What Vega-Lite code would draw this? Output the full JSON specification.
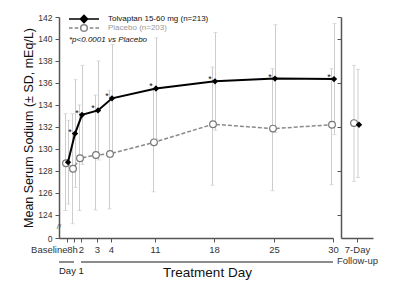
{
  "$schema": "https://vega.github.io/schema/vega-lite/v6.json",
  "background": "white",
  "padding": {"left": 22, "top": 13, "right": 5, "bottom": 2},
  "config": {
    "view": {"stroke": null},
    "font": "Liberation Sans",
    "axis": {"grid": false, "labelOverlap": false, "tickCount": 40, "domainColor": "#555", "domainWidth": 1.5, "tickColor": "#555", "tickWidth": 1, "tickSize": 4, "labelColor": "#333", "titleFontWeight": "normal", "titleColor": "#111"}
  },
  "datasets": {
    "main": [
      {"series": "Placebo (n=203)", "day": 0, "mean": 128.7, "lo": 124.4, "hi": 133.2, "sig": false},
      {"series": "Placebo (n=203)", "day": 0.33, "mean": 128.2, "lo": 123.2, "hi": 133.2, "sig": false},
      {"series": "Placebo (n=203)", "day": 2, "mean": 129.15, "lo": 124.4, "hi": 134.0, "sig": false},
      {"series": "Placebo (n=203)", "day": 3, "mean": 129.45, "lo": 124.45, "hi": 134.9, "sig": false},
      {"series": "Placebo (n=203)", "day": 4, "mean": 129.55, "lo": 124.55, "hi": 135.3, "sig": false},
      {"series": "Placebo (n=203)", "day": 11, "mean": 130.6, "lo": 126.1, "hi": 135.4, "sig": false},
      {"series": "Placebo (n=203)", "day": 18, "mean": 132.25, "lo": 126.7, "hi": 137.45, "sig": false},
      {"series": "Placebo (n=203)", "day": 25, "mean": 131.85, "lo": 126.2, "hi": 137.3, "sig": false},
      {"series": "Placebo (n=203)", "day": 30, "mean": 132.2, "lo": 126.75, "hi": 137.3, "sig": false},
      {"series": "Tolvaptan 15-60 mg (n=213)", "day": 0, "mean": 128.8, "lo": 125.0, "hi": 132.6, "sig": false},
      {"series": "Tolvaptan 15-60 mg (n=213)", "day": 0.33, "mean": 131.4, "lo": 126.5, "hi": 136.3, "sig": true},
      {"series": "Tolvaptan 15-60 mg (n=213)", "day": 2, "mean": 133.1, "lo": 128.6, "hi": 137.6, "sig": true},
      {"series": "Tolvaptan 15-60 mg (n=213)", "day": 3, "mean": 133.5, "lo": 129.0, "hi": 138.0, "sig": true},
      {"series": "Tolvaptan 15-60 mg (n=213)", "day": 4, "mean": 134.6, "lo": 129.7, "hi": 139.5, "sig": true},
      {"series": "Tolvaptan 15-60 mg (n=213)", "day": 11, "mean": 135.5, "lo": 130.9, "hi": 140.1, "sig": true},
      {"series": "Tolvaptan 15-60 mg (n=213)", "day": 18, "mean": 136.15, "lo": 131.7, "hi": 140.6, "sig": true},
      {"series": "Tolvaptan 15-60 mg (n=213)", "day": 25, "mean": 136.4, "lo": 131.5, "hi": 141.3, "sig": true},
      {"series": "Tolvaptan 15-60 mg (n=213)", "day": 30, "mean": 136.35, "lo": 131.3, "hi": 141.4, "sig": true}
    ],
    "fu": [
      {"series": "Placebo (n=203)", "tp": "7-Day Follow-up", "mean": 132.35, "lo": 127.05, "hi": 137.6},
      {"series": "Tolvaptan 15-60 mg (n=213)", "tp": "7-Day Follow-up", "mean": 132.2, "lo": 127.4, "hi": 137.25}
    ],
    "brackets": [
      {"label": "Day 1", "start": -0.38, "end": 0.33},
      {"label": "Treatment Day", "start": 2, "end": 30}
    ]
  },
  "spacing": 7,
  "bounds": "flush",
  "hconcat": [
    {
      "width": 275,
      "height": 221,
      "layer": [
        {
          "data": {"name": "main"},
          "layer": [
            {
              "transform": [{"filter": "datum.series == 'Placebo (n=203)'"}],
              "mark": {"type": "rule", "color": "#cdcdcd", "strokeWidth": 1, "xOffset": -1.5},
              "encoding": {
                "x": {"field": "day", "type": "quantitative",
                  "scale": {"domain": [-0.38, 0, 0.33, 2, 3, 4, 11, 18, 25, 30], "range": [0, 8, 15, 22, 38, 52, 96, 155, 215, 274], "zero": false, "nice": false},
                  "axis": {"title": "Treatment Day", "values": [0, 0.33, 2, 3, 4, 11, 18, 25, 30], "tickCount": 40,
                    "labelExpr": "datum.value == 0 ? 'Baseline' : (datum.value < 1 ? '8h' : format(datum.value, 'd'))",
                    "labelAlign": {"condition": {"test": "datum.value == 0", "value": "right"}, "value": "center"},
                    "labelOffset": {"condition": [{"test": "datum.value == 0", "value": 0}, {"test": "datum.value > 0 && datum.value < 1", "value": -2}], "value": 0},
                    "labelOverlap": false, "labelFlush": false, "labelBound": false, "labelFontSize": 9.5, "labelPadding": 2,
                    "titleFontSize": 13.5, "titleX": 148, "titleY": 38, "titleBaseline": "alphabetic", "titleAlign": "center"}},
                "y": {"field": "lo", "type": "quantitative",
                  "scale": {"domain": [121.9, 142], "nice": false, "zero": false},
                  "axis": {"title": "Mean Serum Sodium (± SD, mEq/L)", "values": [121.9, 124, 126, 128, 130, 132, 134, 136, 138, 140, 142], "tickCount": 40,
                    "labelExpr": "datum.value < 123 ? '0' : format(datum.value, 'd')", "labelOverlap": false, "labelFontSize": 8.5, "labelPadding": 3, "titleFontSize": 12.5, "titlePadding": 2}},
                "y2": {"field": "hi"}
              }
            },
            {
              "transform": [{"filter": "datum.series == 'Placebo (n=203)'"}, {"fold": ["lo", "hi"], "as": ["k", "v"]}],
              "mark": {"type": "tick", "orient": "horizontal", "size": 4, "thickness": 1, "color": "#cdcdcd", "xOffset": -1.5},
              "encoding": {
                "x": {"field": "day", "type": "quantitative"},
                "y": {"field": "v", "type": "quantitative", "title": "Mean Serum Sodium (± SD, mEq/L)"}
              }
            },
            {
              "transform": [{"filter": "datum.series != 'Placebo (n=203)'"}],
              "mark": {"type": "rule", "color": "#cdcdcd", "strokeWidth": 1, "xOffset": 1.5},
              "encoding": {
                "x": {"field": "day", "type": "quantitative"},
                "y": {"field": "lo", "type": "quantitative", "title": "Mean Serum Sodium (± SD, mEq/L)"},
                "y2": {"field": "hi"}
              }
            },
            {
              "transform": [{"filter": "datum.series != 'Placebo (n=203)'"}, {"fold": ["lo", "hi"], "as": ["k", "v"]}],
              "mark": {"type": "tick", "orient": "horizontal", "size": 4, "thickness": 1, "color": "#cdcdcd", "xOffset": 1.5},
              "encoding": {
                "x": {"field": "day", "type": "quantitative"},
                "y": {"field": "v", "type": "quantitative", "title": "Mean Serum Sodium (± SD, mEq/L)"}
              }
            },
            {
              "transform": [{"filter": "datum.series == 'Placebo (n=203)'"}],
              "mark": {"type": "line", "color": "#8a8a8a", "strokeWidth": 1.5, "strokeDash": [4, 2], "xOffset": -1},
              "encoding": {
                "x": {"field": "day", "type": "quantitative"},
                "y": {"field": "mean", "type": "quantitative", "title": "Mean Serum Sodium (± SD, mEq/L)"}
              }
            },
            {
              "transform": [{"filter": "datum.series != 'Placebo (n=203)'"}],
              "mark": {"type": "line", "color": "#000", "strokeWidth": 2, "xOffset": 1},
              "encoding": {
                "x": {"field": "day", "type": "quantitative"},
                "y": {"field": "mean", "type": "quantitative", "title": "Mean Serum Sodium (± SD, mEq/L)"}
              }
            },
            {
              "transform": [{"filter": "datum.series == 'Placebo (n=203)'"}],
              "mark": {"type": "point", "shape": "circle", "filled": true, "fill": "white", "stroke": "#777", "strokeWidth": 1.2, "size": 45, "opacity": 1, "xOffset": -1},
              "encoding": {
                "x": {"field": "day", "type": "quantitative"},
                "y": {"field": "mean", "type": "quantitative", "title": "Mean Serum Sodium (± SD, mEq/L)"}
              }
            },
            {
              "transform": [{"filter": "datum.series != 'Placebo (n=203)'"}],
              "mark": {"type": "point", "shape": "diamond", "filled": true, "color": "#000", "size": 40, "opacity": 1, "xOffset": 1},
              "encoding": {
                "x": {"field": "day", "type": "quantitative"},
                "y": {"field": "mean", "type": "quantitative", "title": "Mean Serum Sodium (± SD, mEq/L)"}
              }
            },
            {
              "transform": [{"filter": "datum.sig"}],
              "mark": {"type": "text", "text": "*", "fontSize": 9, "color": "#111", "baseline": "alphabetic", "align": "center", "dx": -4, "dy": 1},
              "encoding": {
                "x": {"field": "day", "type": "quantitative"},
                "y": {"field": "mean", "type": "quantitative", "title": "Mean Serum Sodium (± SD, mEq/L)"}
              }
            },
            {
              "transform": [{"filter": "datum.day < 0"}],
              "mark": {"type": "point", "filled": true, "color": "#000", "strokeWidth": 1.5, "opacity": 1},
              "encoding": {
                "x": {"field": "day", "type": "quantitative"},
                "y": {"field": "mean", "type": "quantitative", "title": "Mean Serum Sodium (± SD, mEq/L)"},
                "stroke": {"field": "series", "type": "nominal", "scale": {"domain": ["Tolvaptan 15-60 mg (n=213)"], "range": ["#000"]},
                  "legend": {"title": null, "orient": "none", "legendX": 10, "legendY": -2, "padding": 0,
                    "symbolType": "M-5,0L5,0M0,-1.2L1.2,0L0,1.2L-1.2,0Z", "symbolSize": 36, "symbolOffset": 11, "symbolStrokeWidth": 1.5,
                    "symbolFillColor": "#000", "symbolOpacity": 1, "labelFontSize": 8, "labelColor": "#111", "labelOffset": 20}}
              }
            },
            {
              "transform": [{"filter": "datum.day < 0"}],
              "mark": {"type": "point", "filled": true, "fill": "#fff", "stroke": "#888", "strokeWidth": 1.5, "opacity": 1},
              "encoding": {
                "x": {"field": "day", "type": "quantitative"},
                "y": {"field": "mean", "type": "quantitative", "title": "Mean Serum Sodium (± SD, mEq/L)"},
                "fill": {"field": "series", "type": "nominal", "scale": {"domain": ["Placebo (n=203)"], "range": ["#fff"]},
                  "legend": {"title": "*p<0.0001 vs Placebo", "orient": "none", "legendX": 10, "legendY": 7, "padding": 0,
                    "titleOrient": "bottom", "titleFontStyle": "italic", "titleFontWeight": "normal", "titleFontSize": 8, "titleColor": "#111", "titlePadding": 2,
                    "symbolType": "M-5,0L-3.8,0M-3.1,0L-1.9,0M1.9,0L3.1,0M3.8,0L5,0M1.1,0A1.1,1.1,0,1,1,-1.1,0A1.1,1.1,0,1,1,1.1,0Z",
                    "symbolSize": 36, "symbolOffset": 11, "symbolStrokeColor": "#888", "symbolStrokeWidth": 1.5, "symbolOpacity": 1,
                    "labelFontSize": 8, "labelColor": "#999", "labelOffset": 20}}
              }
            }
          ]
        },
        {
          "data": {"name": "brackets"},
          "layer": [
            {
              "mark": {"type": "rule", "color": "#8c8c8c", "strokeWidth": 2},
              "encoding": {
                "x": {"field": "start", "type": "quantitative"},
                "x2": {"field": "end"},
                "y": {"datum": 119.72, "type": "quantitative"}
              }
            },
            {
              "transform": [{"filter": "datum.label == 'Day 1'"}],
              "mark": {"type": "text", "fontSize": 9.5, "color": "#222", "align": "left", "baseline": "alphabetic"},
              "encoding": {
                "x": {"field": "start", "type": "quantitative"},
                "y": {"datum": 118.64, "type": "quantitative"},
                "text": {"field": "label"}
              }
            },
            {
              "mark": {"type": "text", "text": "//", "fontSize": 8, "color": "#555", "align": "center", "baseline": "middle"},
              "transform": [{"filter": "datum.label == 'Day 1'"}],
              "encoding": {
                "x": {"field": "start", "type": "quantitative"},
                "y": {"datum": 122.9, "type": "quantitative"}
              }
            }
          ]
        }
      ]
    },
    {
      "width": 32,
      "height": 221,
      "data": {"name": "fu"},
      "layer": [
        {
          "transform": [{"filter": "datum.series == 'Placebo (n=203)'"}],
          "mark": {"type": "rule", "color": "#cdcdcd", "strokeWidth": 1, "xOffset": -3},
          "encoding": {
            "x": {"field": "tp", "type": "nominal", "scale": {"type": "point"},
              "axis": {"title": null, "labelAngle": 0, "labelExpr": "['7-Day', 'Follow-up']", "labelFontSize": 9.5, "labelLineHeight": 11, "labelPadding": 2}},
            "y": {"field": "lo", "type": "quantitative", "scale": {"domain": [121.9, 142], "nice": false, "zero": false},
              "axis": {"title": null, "labels": false, "values": [124, 128, 132, 136, 140, 142], "tickCount": 40}},
            "y2": {"field": "hi"}
          }
        },
        {
          "transform": [{"filter": "datum.series == 'Placebo (n=203)'"}, {"fold": ["lo", "hi"], "as": ["k", "v"]}],
          "mark": {"type": "tick", "orient": "horizontal", "size": 4, "thickness": 1, "color": "#cdcdcd", "xOffset": -3},
          "encoding": {
            "x": {"field": "tp", "type": "nominal"},
            "y": {"field": "v", "type": "quantitative"}
          }
        },
        {
          "transform": [{"filter": "datum.series != 'Placebo (n=203)'"}],
          "mark": {"type": "rule", "color": "#cdcdcd", "strokeWidth": 1, "xOffset": 1},
          "encoding": {
            "x": {"field": "tp", "type": "nominal"},
            "y": {"field": "lo", "type": "quantitative"},
            "y2": {"field": "hi"}
          }
        },
        {
          "transform": [{"filter": "datum.series != 'Placebo (n=203)'"}, {"fold": ["lo", "hi"], "as": ["k", "v"]}],
          "mark": {"type": "tick", "orient": "horizontal", "size": 4, "thickness": 1, "color": "#cdcdcd", "xOffset": 1},
          "encoding": {
            "x": {"field": "tp", "type": "nominal"},
            "y": {"field": "v", "type": "quantitative"}
          }
        },
        {
          "transform": [{"filter": "datum.series == 'Placebo (n=203)'"}],
          "mark": {"type": "point", "shape": "circle", "filled": true, "fill": "white", "stroke": "#777", "strokeWidth": 1.2, "size": 45, "opacity": 1, "xOffset": -3},
          "encoding": {
            "x": {"field": "tp", "type": "nominal"},
            "y": {"field": "mean", "type": "quantitative"}
          }
        },
        {
          "transform": [{"filter": "datum.series != 'Placebo (n=203)'"}],
          "mark": {"type": "point", "shape": "diamond", "filled": true, "color": "#000", "size": 40, "opacity": 1, "xOffset": 2},
          "encoding": {
            "x": {"field": "tp", "type": "nominal"},
            "y": {"field": "mean", "type": "quantitative"}
          }
        }
      ]
    }
  ]
}
